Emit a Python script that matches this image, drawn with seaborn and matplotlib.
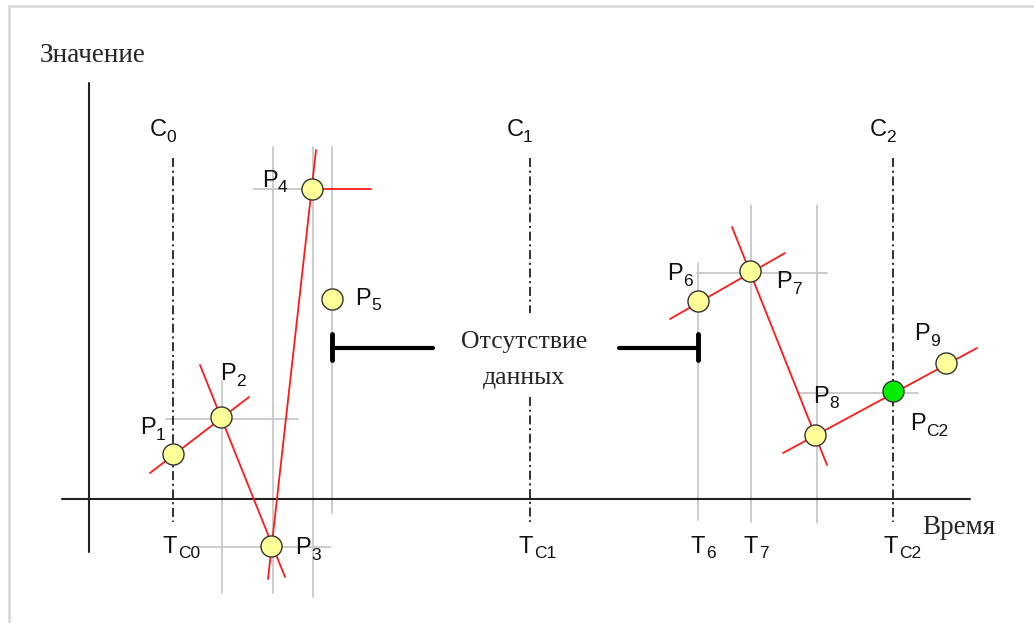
import numpy as np
import pandas as pd
import seaborn as sns
import matplotlib.pyplot as plt

# diagram coordinates (pixel-like units, y grows downward)
pt_labels = ["1", "2", "3", "4", "5", "6", "7", "8", "9"]
pt_x = [173, 221, 271, 312, 332, 698, 750, 815, 946]
pt_y = [454, 417, 546, 189, 299, 301, 271, 435, 363]
pc2_x, pc2_y = 893, 391

# label positions for P_i (P letter position)
lab_x = [148, 228, 303, 270, 363, 675, 784, 821, 922]
lab_y = [428, 374, 548, 181, 299, 274, 282, 397, 334]

# control times C0, C1, C2
c_labels = ["0", "1", "2"]
c_x = [173, 530, 893]

# red tangent segments (x0, y0, x1, y1)
tan_x0 = [150, 200, 268, 312, 670, 732, 783]
tan_y0 = [473, 365, 579, 189, 319, 227, 453]
tan_x1 = [249, 285, 316, 371, 785, 827, 977]
tan_y1 = [397, 577, 150, 189, 253, 465, 348]

# light gray guide lines
vgrid_x = [222, 273, 313, 332, 698, 751, 817]
vgrid_top = [381, 147, 147, 147, 263, 205, 205]
vgrid_bot = [593, 593, 597, 513, 520, 522, 523]
hgrid_y = [419, 547, 189, 273, 393]
hgrid_x0 = [166, 197, 253, 697, 800]
hgrid_x1 = [298, 331, 312, 827, 918]

# time labels under the axis
t_labels = [("T", "C0", 170), ("T", "C1", 526), ("T", "6", 698), ("T", "7", 751), ("T", "C2", 891)]

sns.set_theme(style="white")
plt.rcParams["font.family"] = ["Liberation Sans", "DejaVu Sans"]

fig = plt.figure(figsize=(10.34, 6.23), dpi=100)
ax = fig.add_axes([0, 0, 1, 1])

# outer frame (top and left only visible)
ax.plot([9, 1034], [6, 6], color="#d9d9d9", lw=2)
ax.plot([9, 9], [6, 623], color="#d9d9d9", lw=2)

gray = "#c8c8c8"
for x, t, b in zip(vgrid_x, vgrid_top, vgrid_bot):
    ax.plot([x, x], [t, b], color=gray, lw=1.3, zorder=1)
for y, a, b in zip(hgrid_y, hgrid_x0, hgrid_x1):
    ax.plot([a, b], [y, y], color=gray, lw=1.3, zorder=1)

# axes
ax.plot([89, 89], [83, 552], color="#222222", lw=1.5, zorder=2)
ax.plot([62, 970], [499, 499], color="#222222", lw=1.5, zorder=2)

# dash-dot control lines
dd = (0, (5, 2, 1.2, 2))
for x in c_x:
    if x == 530:
        ax.plot([x, x], [158, 313], color="#222222", lw=1.3, ls=dd, zorder=2)
        ax.plot([x, x], [397, 522], color="#222222", lw=1.3, ls=dd, zorder=2)
    else:
        ax.plot([x, x], [158, 522], color="#222222", lw=1.3, ls=dd, zorder=2)

# red tangents
for a, b, c, d in zip(tan_x0, tan_y0, tan_x1, tan_y1):
    ax.plot([a, c], [b, d], color="#ff1a1a", lw=1.3, zorder=3)

# points
df = pd.DataFrame({"x": pt_x, "y": pt_y})
sns.scatterplot(data=df, x="x", y="y", ax=ax, s=230, color="#ffff99",
                edgecolor="#333333", linewidth=1.0, zorder=5, legend=False)
ax.scatter([pc2_x], [pc2_y], s=230, color="#00ee00", edgecolor="#333333",
           linewidth=1.0, zorder=5)

# missing data bracket
ax.plot([332, 433], [348, 348], color="black", lw=3, zorder=4)
ax.plot([332, 332], [334, 360], color="black", lw=3.5, zorder=4)
ax.plot([619, 698], [348, 348], color="black", lw=3, zorder=4)
ax.plot([698, 698], [334, 360], color="black", lw=3.5, zorder=4)

serif = ["Liberation Serif", "DejaVu Serif"]
ax.text(524, 342, "Отсутствие", family=serif, fontsize=18.5, ha="center", va="center")
ax.text(524, 378, "данных", family=serif, fontsize=18.5, ha="center", va="center")
ax.text(40, 55, "Значение", family=serif, fontsize=19.5, ha="left", va="center")
ax.text(922, 527, "Время", family=serif, fontsize=19.5, ha="left", va="center")

fs = 17
sub_fs = 12.5


def sublabel(x, y, main, sub):
    ax.text(x, y, main, fontsize=fs, ha="center", va="center", color="#111111", zorder=6)
    ax.text(x + 8, y + 7, sub, fontsize=sub_fs, ha="left", va="center", color="#111111", zorder=6)


for lab, x, y in zip(pt_labels, lab_x, lab_y):
    sublabel(x, y, "P", lab)
sublabel(918, 424, "P", "C2")
for lab, x in zip(c_labels, c_x):
    sublabel(x - 15, 130, "C", lab)
for main, sub, x in t_labels:
    sublabel(x, 547, main, sub)

ax.set_xlim(0, 1034)
ax.set_ylim(623, 0)
ax.axis("off")

fig.savefig("out.png", dpi=100)
